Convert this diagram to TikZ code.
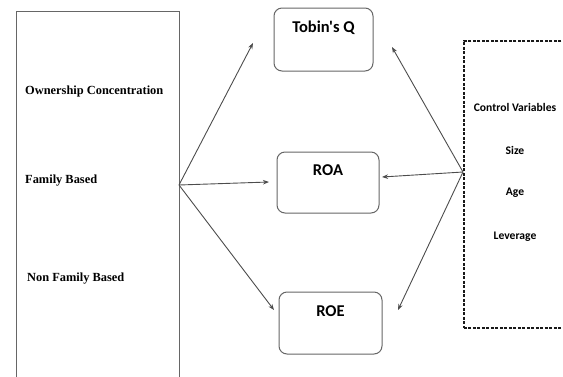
\documentclass[tikz,border=0pt]{standalone}
\usepackage{fontspec}
\setmainfont{Liberation Serif}
\newfontfamily\calibri{Carlito}
\usetikzlibrary{arrows.meta}

\tikzset{
  outline/.style={draw=black!60, line width=1pt},
  metricbox/.style={outline, rounded corners=8pt, inner sep=0pt},
  metrictext/.style={font=\calibri\bfseries\fontsize{16.5}{18}\selectfont, inner sep=0pt},
  ownertext/.style={font=\bfseries\fontsize{12.4}{14}\selectfont, anchor=west, inner sep=0pt},
  controltext/.style={font=\calibri\bfseries\fontsize{11.6}{13}\selectfont, inner sep=0pt},
  link/.style={draw=black!70, line width=0.9pt, -{Stealth[length=6pt,width=4.5pt]}}
}

\begin{document}
\begin{tikzpicture}[x=1pt,y=1pt]
  \useasboundingbox (0,0) rectangle (563,-376);

  % ownership box on the left
  \node[outline, minimum width=163pt, minimum height=390pt, inner sep=0pt,
        anchor=north west] (owner) at (16,-11) {};
  \node[ownertext] (conc) at (25,-92) {Ownership Concentration};
  \node[ownertext] (fam) at (25,-181) {Family Based};
  \node[ownertext] (nonfam) at (27,-279) {Non Family Based};

  % performance measures
  \node[metricbox, minimum width=99pt, minimum height=63pt] (tobin) at (323.5,-39.5) {};
  \node[metrictext] (tobintxt) at (323.5,-28) {Tobin's Q};
  \node[metricbox, minimum width=102pt, minimum height=61pt] (roa) at (328,-182.5) {};
  \node[metrictext] (roatxt) at (328,-170) {ROA};
  \node[metricbox, minimum width=103pt, minimum height=62pt] (roe) at (330.5,-323) {};
  \node[metrictext] (roetxt) at (330.5,-311) {ROE};

  % control variables
  \node[draw=black!90, line width=1.7pt, dash pattern=on 3pt off 1.5pt,
        minimum width=110pt, minimum height=287pt, inner sep=0pt,
        anchor=north west] (control) at (463,-40) {};
  \node[controltext] (ctitle) at (515,-107) {Control Variables};
  \node[controltext] (csize) at (515,-150) {Size};
  \node[controltext] (cage) at (515,-193) {Age};
  \node[controltext] (clev) at (515,-237) {Leverage};

  % arrow ends
  \coordinate (lsrc) at (179,-185);
  \coordinate (rsrc) at (463,-172);
  \coordinate (tobin-l) at (253,-43);
  \coordinate (roa-l) at (269,-182);
  \coordinate (roe-l) at (274,-310);
  \coordinate (tobin-r) at (392,-47);
  \coordinate (roa-r) at (382,-177);
  \coordinate (roe-r) at (398,-310);

  \draw[link] (lsrc) -- (tobin-l);
  \draw[link] (lsrc) -- (roa-l);
  \draw[link] (lsrc) -- (roe-l);
  \draw[link] (rsrc) -- (tobin-r);
  \draw[link] (rsrc) -- (roa-r);
  \draw[link] (rsrc) -- (roe-r);

\end{tikzpicture}
\end{document}
